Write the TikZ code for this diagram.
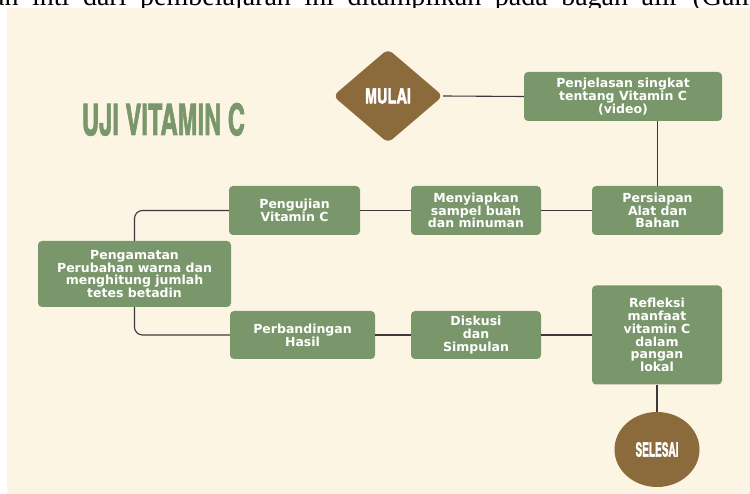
\documentclass[tikz,border=0pt]{standalone}
\usepackage{fontspec}
\setmainfont{Liberation Serif}
\newfontfamily\boxfont{DejaVu Sans}
\newfontfamily\headfont{texgyreheroscn-bold.otf}[FakeBold=2]
\usetikzlibrary{shapes.geometric,positioning}

\definecolor{cream}{HTML}{FDF5E4}
\definecolor{sage}{HTML}{7A976B}
\definecolor{bark}{HTML}{8B6A3C}
\definecolor{wire}{HTML}{3A3A3A}

\newcommand{\headtext}[3]{\resizebox{#1}{#2}{\headfont #3}}

\begin{document}
\begin{tikzpicture}[x=1pt, y=-1pt,
  stepbox/.style={fill=sage, rounded corners=4pt, inner sep=0pt, align=center, text=white, font=\boxfont\bfseries\fontsize{12.5}{12.7}\selectfont},
  endnode/.style={fill=bark, text=white, inner sep=0pt},
  link/.style={draw=wire, line width=1.1pt, rounded corners=8pt},
]
\useasboundingbox (0,0) rectangle (750,494);
\fill[white] (0,0) rectangle (750,494);

% cut-off line of the page above the chart
\begin{scope}
  \clip (0,0) rectangle (750,8);
  \node[anchor=base west, inner sep=0pt, font=\fontsize{28}{32}\selectfont] (caption) at (-8,6)
    {\makebox[764pt][s]{an inti dari pembelajaran ini ditampilkan pada bagan alir (Gam}};
\end{scope}
\fill[cream] (7,8) rectangle (750,494);

% title
\node[text=sage, inner sep=0pt, anchor=base] (title) at (163.5,135) {\headtext{163pt}{32pt}{UJI VITAMIN C}};

% start and end
\node[endnode, diamond, rounded corners=6pt, minimum width=110pt, minimum height=94pt] (start) at (388,96) {\headtext{46pt}{15pt}{MULAI}};
\node[endnode, ellipse, minimum width=85pt, minimum height=75pt] (finish) at (657,449.5) {\headtext{43pt}{14.5pt}{SELESAI}};

% steps
\node[stepbox, minimum width=198pt, minimum height=49pt] (intro) at (623,96.5) {Penjelasan singkat\\tentang Vitamin C\\(video)};
\node[stepbox, minimum width=131pt, minimum height=49pt] (prep) at (657.5,210.5) {Persiapan\\Alat dan\\Bahan};
\node[stepbox, minimum width=130pt, minimum height=49pt] (sample) at (476,210.5) {Menyiapkan\\sampel buah\\dan minuman};
\node[stepbox, minimum width=131pt, minimum height=49pt] (test) at (294.5,210.5) {Pengujian\\Vitamin C};
\node[stepbox, minimum width=193pt, minimum height=66pt] (observe) at (134.5,274) {Pengamatan\\Perubahan warna dan\\menghitung jumlah\\tetes betadin};
\node[stepbox, minimum width=145pt, minimum height=48pt] (compare) at (302.5,335) {Perbandingan\\Hasil};
\node[stepbox, minimum width=130pt, minimum height=48pt] (discuss) at (476,335) {Diskusi\\dan\\Simpulan};
\node[stepbox, minimum width=130pt, minimum height=99pt] (reflect) at (657,335) {Refleksi\\manfaat\\vitamin C\\dalam\\pangan\\lokal};

% connectors
\draw[link] (start.east) -- (intro.west);
\draw[link] (prep.north) -- (prep.north |- intro.south);
\draw[link] (prep.west) -- (sample.east);
\draw[link] (sample.west) -- (test.east);
\draw[link] (test.west) -| (observe.north);
\draw[link] (observe.south) |- (compare.west);
\draw[link] (compare.east) -- (discuss.west);
\draw[link] (discuss.east) -- (reflect.west);
\draw[link] (reflect.south) -- (finish.north);

\end{tikzpicture}
\end{document}
